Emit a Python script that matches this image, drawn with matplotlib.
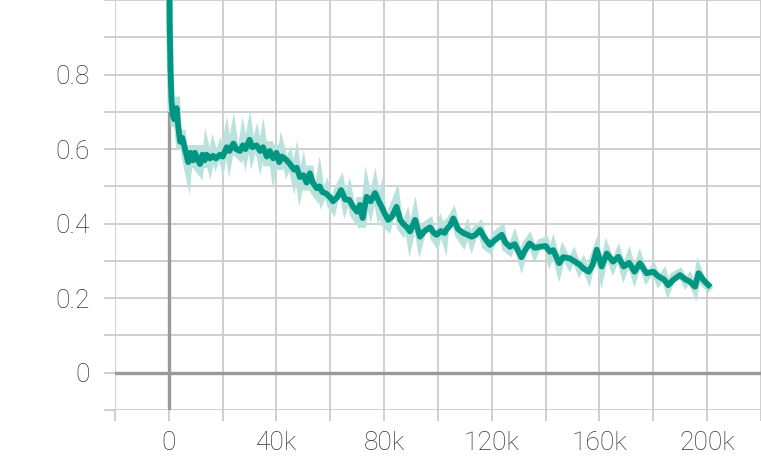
import numpy as np
import matplotlib
matplotlib.use("Agg")
import matplotlib.pyplot as plt
from matplotlib.ticker import MultipleLocator, FixedLocator, FuncFormatter

# steps (in thousands) and smoothed values
steps_k = [0, 0.3, 0.6, 1.0, 1.5, 2.0, 2.9, 3.5, 4.2, 5.0, 6.0, 7.2, 8.0, 9.0, 9.7,
           10.5, 11.6, 12.5, 13.3, 14.0, 15.3, 16.4, 17.5, 19.0, 20.0, 21.5, 22.5,
           24.0, 25.0, 26.4, 27.5, 28.5, 30.0, 31.0, 32.6, 33.9, 35.0, 36.4, 37.5,
           38.8, 40.0, 41.0, 42.0, 43.8, 45.0, 46.5, 47.5, 48.7, 50.0, 51.2, 52.4,
           53.5, 55.0, 56.0, 57.0, 58.6, 60.0, 61.0, 62.5, 64.0, 65.5, 67.0, 68.5,
           70.0, 71.0, 72.0, 73.5, 75.0, 76.6, 78.0, 79.0, 80.0, 81.5, 83.0, 84.6,
           86.0, 87.0, 88.5, 89.6, 91.5, 93.3, 95.0, 97.0, 98.5, 99.5, 101.0, 102.5,
           103.0, 104.5, 105.7, 107.5, 109.4, 111.0, 112.5, 114.0, 115.6, 117.5,
           119.3, 121.0, 123.7, 125.0, 126.7, 128.5, 131.0, 132.5, 134.0, 136.0,
           138.0, 140.0, 141.5, 142.8, 145.0, 146.5, 148.9, 150.5, 152.6, 154.0,
           156.0, 157.5, 159.0, 160.8, 162.7, 165.0, 167.0, 169.0, 171.0, 173.0,
           175.0, 177.5, 180.0, 182.0, 184.0, 185.5, 187.4, 189.9, 192.0, 193.5,
           195.5, 196.8, 198.6, 200.5]

smoothed = [1.30, 0.95, 0.82, 0.73, 0.69, 0.68, 0.71, 0.66, 0.62, 0.63, 0.60, 0.565,
            0.59, 0.57, 0.59, 0.575, 0.56, 0.585, 0.57, 0.585, 0.575, 0.582, 0.575,
            0.585, 0.58, 0.605, 0.595, 0.615, 0.60, 0.595, 0.61, 0.60, 0.625, 0.605,
            0.61, 0.595, 0.605, 0.58, 0.595, 0.575, 0.59, 0.565, 0.58, 0.57, 0.56,
            0.545, 0.55, 0.525, 0.53, 0.51, 0.535, 0.51, 0.495, 0.50, 0.485, 0.48,
            0.47, 0.46, 0.47, 0.49, 0.465, 0.464, 0.445, 0.432, 0.45, 0.415, 0.472,
            0.46, 0.482, 0.46, 0.446, 0.43, 0.41, 0.42, 0.445, 0.41, 0.40, 0.39,
            0.379, 0.41, 0.365, 0.38, 0.39, 0.375, 0.37, 0.38, 0.375, 0.383, 0.395,
            0.414, 0.385, 0.375, 0.37, 0.365, 0.37, 0.383, 0.36, 0.343, 0.355, 0.37,
            0.35, 0.338, 0.345, 0.31, 0.33, 0.347, 0.335, 0.338, 0.34, 0.325, 0.329,
            0.294, 0.31, 0.307, 0.30, 0.29, 0.28, 0.271, 0.29, 0.33, 0.285, 0.32,
            0.298, 0.311, 0.285, 0.295, 0.271, 0.294, 0.267, 0.271, 0.258, 0.25,
            0.235, 0.249, 0.262, 0.25, 0.245, 0.231, 0.267, 0.249, 0.235]

raw = [1.30, 0.92, 0.80, 0.70, 0.72, 0.66, 0.74, 0.64, 0.60, 0.65, 0.58, 0.54,
       0.61, 0.55, 0.61, 0.55, 0.54, 0.61, 0.55, 0.60, 0.56, 0.60, 0.57, 0.60,
       0.57, 0.63, 0.58, 0.64, 0.59, 0.58, 0.63, 0.59, 0.645, 0.59, 0.63, 0.58,
       0.625, 0.555, 0.62, 0.555, 0.61, 0.545, 0.60, 0.55, 0.575, 0.525, 0.565,
       0.50, 0.545, 0.49, 0.555, 0.49, 0.475, 0.52, 0.47, 0.495, 0.45, 0.44,
       0.49, 0.51, 0.45, 0.485, 0.425, 0.41, 0.47, 0.39, 0.495, 0.445, 0.50,
       0.44, 0.47, 0.40, 0.39, 0.44, 0.47, 0.39, 0.38, 0.41, 0.36, 0.425, 0.35,
       0.395, 0.405, 0.36, 0.35, 0.395, 0.36, 0.40, 0.41, 0.425, 0.37, 0.35, 0.385,
       0.35, 0.385, 0.395, 0.34, 0.33, 0.37, 0.385, 0.335, 0.325, 0.36, 0.30,
       0.345, 0.36, 0.32, 0.35, 0.355, 0.31, 0.34, 0.28, 0.325, 0.29, 0.315,
       0.275, 0.295, 0.26, 0.305, 0.335, 0.27, 0.33, 0.285, 0.32, 0.27, 0.31,
       0.26, 0.305, 0.255, 0.28, 0.245, 0.265, 0.225, 0.26, 0.27, 0.24, 0.255,
       0.222, 0.275, 0.24, 0.228]

x_ticks = [0, 40000, 80000, 120000, 160000, 200000]
y_ticks = [0, 0.2, 0.4, 0.6, 0.8]

plt.rcParams['font.family'] = ['Roboto', 'DejaVu Sans']

fig = plt.figure(figsize=(7.61, 4.61), dpi=100)
ax = fig.add_axes([0.1511, 0.1106, 0.8489, 0.8894])

steps = np.array(steps_k) * 1000
ax.plot(steps, raw, color="#b9e2dc", lw=5, solid_joinstyle="miter", zorder=3)
ax.plot(steps, smoothed, color="#009682", lw=4.2, zorder=4)

ax.set_xlim(-20000, 220000)
ax.set_ylim(-0.1, 1.0)

ax.xaxis.set_major_locator(FixedLocator(x_ticks))
ax.xaxis.set_minor_locator(MultipleLocator(20000))
ax.yaxis.set_major_locator(FixedLocator(y_ticks))
ax.yaxis.set_minor_locator(MultipleLocator(0.1))
ax.xaxis.set_major_formatter(FuncFormatter(lambda v, p: "0" if v == 0 else f"{int(v/1000)}k"))
ax.yaxis.set_major_formatter(FuncFormatter(lambda v, p: "0" if v == 0 else f"{v:.1f}"))

ax.grid(True, which="both", color="#cccccc", lw=1.3, zorder=0)
ax.set_axisbelow(True)
ax.axhline(0, color="#999999", lw=2.4, zorder=2)
ax.axvline(0, color="#999999", lw=2.4, zorder=2)

for s in ax.spines.values():
    s.set_visible(False)

ax.tick_params(which="both", length=8, width=1.3, color="#cccccc",
               labelsize=19, labelcolor="#35353f")
ax.tick_params(axis="y", pad=10)
ax.tick_params(axis="x", pad=7)
for lab in ax.get_xticklabels() + ax.get_yticklabels():
    lab.set_fontweight("light")

fig.savefig("out.png", dpi=100)
